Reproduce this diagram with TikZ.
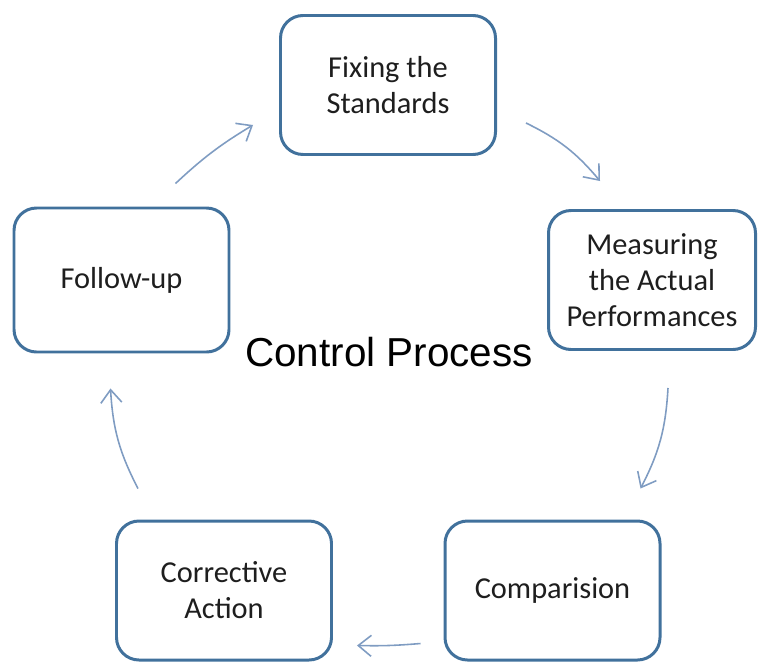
\documentclass[tikz,border=0pt]{standalone}
\usepackage{fontspec}
\usetikzlibrary{arrows.meta}
\setmainfont{Carlito}
\newfontfamily\arialfont{Liberation Sans}
\definecolor{boxline}{HTML}{41719C}
\definecolor{flowline}{HTML}{7F9CC2}
\definecolor{txt}{HTML}{1E1E1E}
\begin{document}
\begin{tikzpicture}[
  stage/.style={draw=boxline,line width=1.7pt,rounded corners=0.45cm,fill=white,
    minimum width=4.3cm,minimum height=2.78cm,align=center,text=txt,
    font=\fontsize{17.3}{20.5}\selectfont},
  flow/.style={-{Straight Barb[length=2.6mm,width=4.2mm]},draw=flowline,line width=0.9pt}]
\useasboundingbox (0,0) rectangle (15.16,13.24);
%stages
\node[stage] (fix) at (7.76,11.54) {Fixing the\\Standards};
\node[stage,minimum width=4.14cm] (meas) at (13.04,7.64) {Measuring\\the Actual\\Performances};
\node[stage,minimum height=2.88cm] (follow) at (2.43,7.64) {Follow-up};
\node[stage] (corr) at (4.48,1.43) {Corrective\\Action};
\node[stage] (comp) at (11.05,1.43) {Comparision};
%title in the middle
\node[font=\arialfont\fontsize{23}{27}\selectfont,text=black] (title) at (7.78,6.2) {Control Process};
%arrows
\draw[flow] ([xshift=0.58cm,yshift=-0.76cm]fix.east) to[bend left=12] ([xshift=-1.04cm,yshift=0.56cm]meas.north);
\draw[flow] ([xshift=0.32cm,yshift=-0.74cm]meas.south) to[bend left=12] ([xshift=1.76cm,yshift=0.62cm]comp.north);
\draw[flow] ([xshift=-0.46cm,yshift=-1.06cm]comp.west) to[bend left=3] ([xshift=0.48cm,yshift=-1.1cm]corr.east);
\draw[flow] ([xshift=-1.72cm,yshift=0.62cm]corr.north) to[bend left=12] ([xshift=-0.22cm,yshift=-0.7cm]follow.south);
\draw[flow] ([xshift=1.08cm,yshift=0.46cm]follow.north) to[bend left=6] ([xshift=-0.52cm,yshift=-0.8cm]fix.west);
\end{tikzpicture}
\end{document}
